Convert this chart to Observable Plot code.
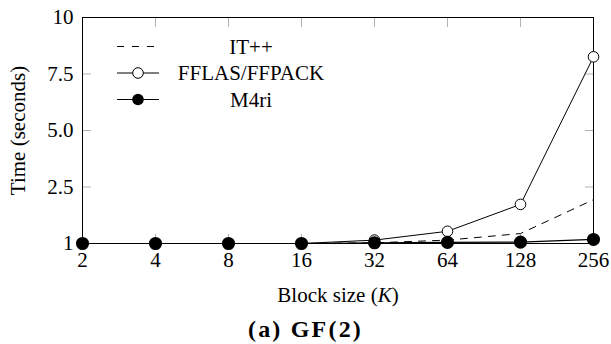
<!DOCTYPE html>
<html><head><meta charset="utf-8">
<script src="https://cdn.jsdelivr.net/npm/d3@7"></script>
<script src="https://cdn.jsdelivr.net/npm/@observablehq/plot@0.6"></script>
<style>
body{margin:0;background:#fff;}
#wrap{position:relative;width:611px;height:344px;font-family:"Liberation Serif",serif;color:#000;}
#wrap svg text{font-family:"Liberation Serif",serif;}
#caption{position:absolute;left:0;width:611px;top:315px;line-height:28px;text-align:center;font-weight:bold;font-size:24px;letter-spacing:2.2px;font-family:"Liberation Serif",serif;}
#legend{position:absolute;left:0;top:0;pointer-events:none;}
</style></head><body>
<div id="wrap"></div>
<script>
// Block sizes (x categories)
const blockSizes = [2, 4, 8, 16, 32, 64, 128, 256];
// Series values
const itpp  = [0, 0, 0, 0, 0.03, 0.15, 0.44, 1.94];
const fflas = [0, 0, 0, 0, 0.15, 0.54, 1.73, 8.26];
const m4ri  = [0, 0, 0, 0, 0.03, 0.05, 0.06, 0.18];
const seriesNames = ["IT++", "FFLAS/FFPACK", "M4ri"];
// Y tick values and labels
const yTickValues = [0, 2.5, 5, 7.5, 10];
const yTickLabels = ["1", "2.5", "5.0", "7.5", "10"];
const xLabel = "Block size (K)";
const yLabel = "Time (seconds)";
const captionText = "(a) GF(2)";

const rows = (vals, name) => blockSizes.map((k, i) => ({k, t: vals[i], series: name}));
const dItpp = rows(itpp, seriesNames[0]);
const dFflas = rows(fflas, seriesNames[1]);
const dM4ri = rows(m4ri, seriesNames[2]);

const serif = '"Liberation Serif", serif';
const tickGray = "#b0b0b0";
const chart = Plot.plot({
  width: 611, height: 310,
  marginLeft: 82, marginRight: 18, marginTop: 17, marginBottom: 67,
  style: {fontFamily: serif, fontSize: "21px", background: "white", color: "black"},
  x: {type: "log", base: 2, domain: [2, 256]},
  y: {domain: [0, 10]},
  marks: [
    Plot.axisX({ticks: blockSizes, tickSize: -9, tickFormat: () => "", stroke: tickGray, label: null}),
    Plot.axisX({anchor: "top", ticks: blockSizes, tickSize: -9, tickFormat: () => "", stroke: tickGray, label: null}),
    Plot.axisX({ticks: blockSizes, tickSize: 0, tickPadding: 9, tickFormat: d => String(d), label: xLabel, labelAnchor: "center", labelArrow: "none", labelOffset: 58}),
    Plot.axisY({ticks: yTickValues, tickSize: -9, tickFormat: () => "", stroke: tickGray, label: null}),
    Plot.axisY({anchor: "right", ticks: yTickValues, tickSize: -9, tickFormat: () => "", stroke: tickGray, label: null}),
    Plot.axisY({ticks: yTickValues, tickSize: 0, tickPadding: 9, tickFormat: d => yTickLabels[yTickValues.indexOf(d)], label: yLabel, labelAnchor: "center", labelArrow: "none", labelOffset: 72}),
    Plot.frame({stroke: "black", strokeWidth: 1}),
    Plot.line(dItpp, {x: "k", y: "t", stroke: "black", strokeWidth: 1, strokeDasharray: "7,7"}),
    Plot.line(dFflas, {x: "k", y: "t", stroke: "black", strokeWidth: 1}),
    Plot.dot(dFflas, {x: "k", y: "t", r: 5.3, stroke: "black", strokeWidth: 1, fill: "white"}),
    Plot.line(dM4ri, {x: "k", y: "t", stroke: "black", strokeWidth: 1.2}),
    Plot.dot(dM4ri, {x: "k", y: "t", r: 5.8, fill: "black", stroke: "black"})
  ]
});

// italic K in x label
d3.select(chart).selectAll("text").filter(function () { return this.textContent === xLabel; })
  .each(function () {
    const t = d3.select(this);
    t.text("");
    t.append("tspan").text("Block size (");
    t.append("tspan").attr("font-style", "italic").text("K");
    t.append("tspan").text(")");
  });

const wrap = document.getElementById("wrap");
wrap.appendChild(chart);

// Legend (no border), inside the plot at top-left
const legend = d3.select(wrap).append("svg").attr("id", "legend").attr("width", 611).attr("height", 130);
const styles = [
  {dash: "7,8", marker: null},
  {dash: null, marker: "open"},
  {dash: null, marker: "filled"}
];
seriesNames.forEach((name, i) => {
  const y = 46.5 + i * 26.5;
  const g = legend.append("g");
  g.append("line").attr("x1", 117).attr("x2", styles[i].dash ? 157 : 159).attr("y1", y).attr("y2", y)
    .attr("stroke", "black").attr("stroke-width", 1).attr("stroke-dasharray", styles[i].dash);
  if (styles[i].marker === "open") g.append("circle").attr("cx", 138).attr("cy", y).attr("r", 5.3).attr("fill", "white").attr("stroke", "black");
  if (styles[i].marker === "filled") g.append("circle").attr("cx", 138).attr("cy", y).attr("r", 5.8).attr("fill", "black");
  g.append("text").attr("x", 251).attr("y", y).attr("dy", "0.34em").attr("text-anchor", "middle")
    .attr("font-size", 21).text(name);
});

const cap = document.createElement("div");
cap.id = "caption";
cap.textContent = captionText;
wrap.appendChild(cap);
</script>
</body></html>
